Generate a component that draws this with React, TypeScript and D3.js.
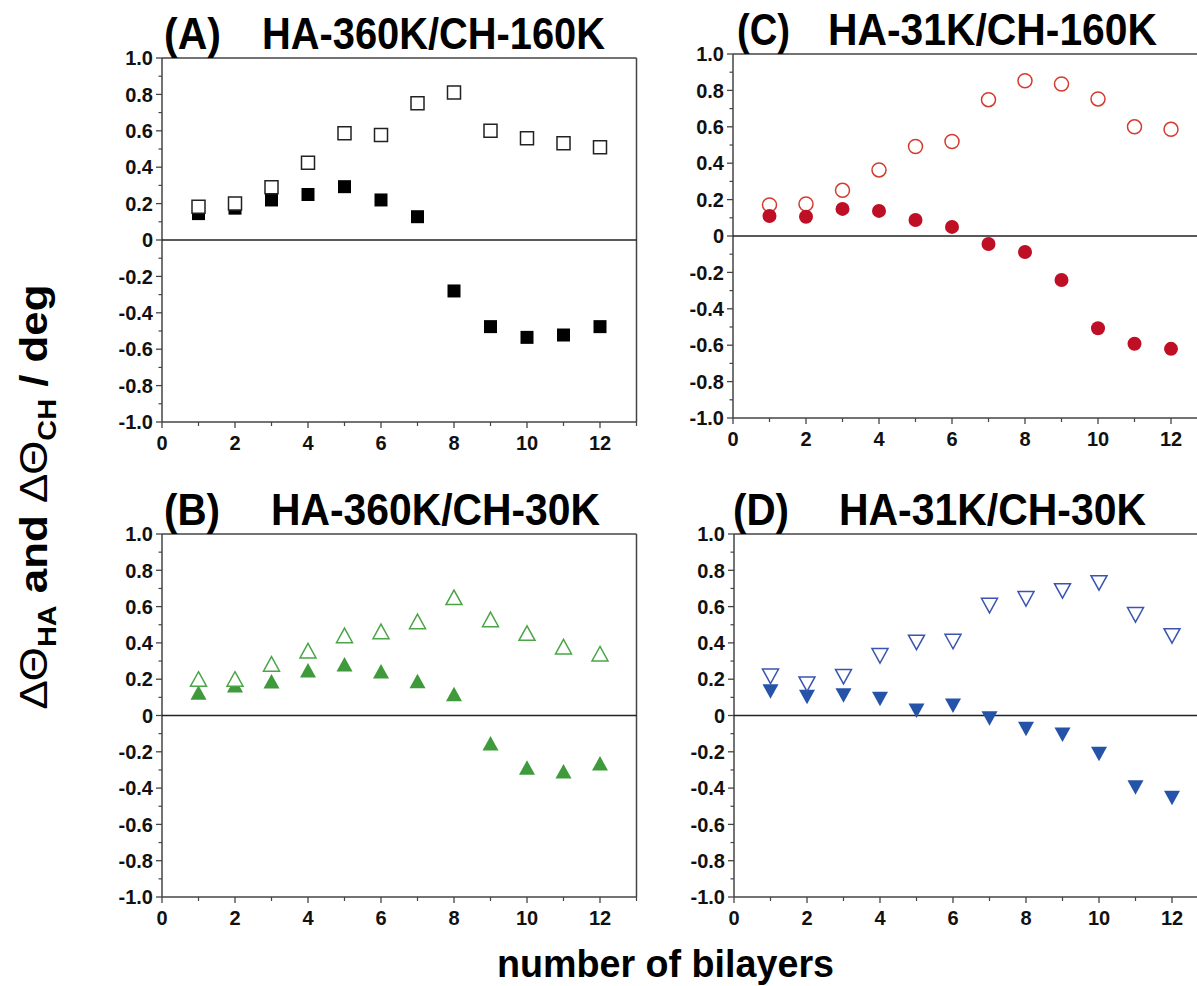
import React from "react";
import * as d3 from "d3";

// number of bilayers
const bilayers = [1, 2, 3, 4, 5, 6, 7, 8, 9, 10, 11, 12];

// (A) HA-360K/CH-160K
const openA = [0.183, 0.2, 0.29, 0.425, 0.586, 0.577, 0.751, 0.81, 0.6, 0.559, 0.531, 0.509];
const filledA = [0.145, 0.175, 0.22, 0.25, 0.293, 0.22, 0.128, -0.28, -0.476, -0.535, -0.522, -0.476];

// (B) HA-360K/CH-30K
const openB = [0.2, 0.2, 0.283, 0.356, 0.44, 0.462, 0.517, 0.65, 0.528, 0.453, 0.378, 0.339];
const filledB = [0.125, 0.165, 0.187, 0.248, 0.281, 0.242, 0.189, 0.117, -0.154, -0.288, -0.308, -0.265];

// (C) HA-31K/CH-160K
const openC = [0.171, 0.176, 0.251, 0.363, 0.492, 0.519, 0.749, 0.853, 0.835, 0.753, 0.6, 0.586];
const filledC = [0.11, 0.106, 0.149, 0.138, 0.088, 0.05, -0.044, -0.088, -0.242, -0.507, -0.592, -0.62];

// (D) HA-31K/CH-30K
const openD = [0.217, 0.174, 0.215, 0.33, 0.404, 0.409, 0.607, 0.644, 0.688, 0.732, 0.556, 0.44];
const filledD = [0.134, 0.103, 0.112, 0.092, 0.028, 0.055, -0.015, -0.073, -0.105, -0.211, -0.395, -0.453];

const xMajorTicks = [0, 2, 4, 6, 8, 10, 12];
const xMinorTicks = [1, 3, 5, 7, 9, 11, 13];
const yMajorTicks = [-1, -0.8, -0.6, -0.4, -0.2, 0, 0.2, 0.4, 0.6, 0.8, 1];
const yMinorTicks = [-0.9, -0.7, -0.5, -0.3, -0.1, 0.1, 0.3, 0.5, 0.7, 0.9];

const FONT = "'Liberation Sans', Arial, Helvetica, sans-serif";

type Shape = "square" | "circle" | "up" | "down";

function symbolPath(shape: Shape) {
  if (shape === "square") return "M-6.5,-6.5H6.5V6.5H-6.5Z";
  if (shape === "circle") return d3.symbol(d3.symbolCircle, Math.PI * 7 * 7)() as string;
  if (shape === "up") return "M0,-7.5L8,7L-8,7Z";
  return "M0,7.5L8,-7L-8,-7Z";
}

const panels = [
  {
    key: "A", label: "(A)", title: "HA-360K/CH-160K",
    left: 162, right: 636.5, top: 58, bottom: 422,
    labelX: 164, labelW: 57, titleX: 262, titleW: 343,
    open: openA, filled: filledA, shape: "square" as Shape,
    fill: "#000000", stroke: "#222222", openOnTop: true,
  },
  {
    key: "B", label: "(B)", title: "HA-360K/CH-30K",
    left: 162, right: 636.5, top: 534, bottom: 897,
    labelX: 164, labelW: 56, titleX: 271, titleW: 329,
    open: openB, filled: filledB, shape: "up" as Shape,
    fill: "#3e9a3a", stroke: "#4aa546", openOnTop: true,
  },
  {
    key: "C", label: "(C)", title: "HA-31K/CH-160K",
    left: 733, right: 1207.5, top: 54, bottom: 418,
    labelX: 737, labelW: 53, titleX: 828, titleW: 329,
    open: openC, filled: filledC, shape: "circle" as Shape,
    fill: "#be0f25", stroke: "#d43b2f", openOnTop: false,
  },
  {
    key: "D", label: "(D)", title: "HA-31K/CH-30K",
    left: 734, right: 1208.5, top: 534, bottom: 897,
    labelX: 733, labelW: 56, titleX: 839, titleW: 307,
    open: openD, filled: filledD, shape: "down" as Shape,
    fill: "#2453a8", stroke: "#3a55b0", openOnTop: true,
  },
];

type PanelProps = (typeof panels)[number];

function Panel(p: PanelProps) {
  const x = d3.scaleLinear().domain([0, 13]).range([p.left, p.right]);
  const y = d3.scaleLinear().domain([-1, 1]).range([p.bottom, p.top]);
  const path = symbolPath(p.shape);
  const axisColor = "#444";

  const filledMarks = bilayers.map((b, i) => (
    <path key={`f${i}`} d={path} transform={`translate(${x(b)},${y(p.filled[i])})`} fill={p.fill} />
  ));
  const openMarks = bilayers.map((b, i) => (
    <path
      key={`o${i}`}
      d={path}
      transform={`translate(${x(b)},${y(p.open[i])})`}
      fill="#fff"
      stroke={p.stroke}
      strokeWidth={1.5}
    />
  ));

  return (
    <g>
      {/* frame */}
      <line x1={p.left} x2={p.right} y1={p.top} y2={p.top} stroke={axisColor} strokeWidth={1.5} />
      <line x1={p.right} x2={p.right} y1={p.top} y2={p.bottom} stroke={axisColor} strokeWidth={1.5} />
      <line x1={p.left} x2={p.right} y1={p.bottom} y2={p.bottom} stroke={axisColor} strokeWidth={1.5} />
      <line x1={p.left} x2={p.left} y1={p.top} y2={p.bottom} stroke={axisColor} strokeWidth={1.5} />
      {/* zero line */}
      <line x1={p.left} x2={p.right} y1={y(0)} y2={y(0)} stroke="#222" strokeWidth={1.5} />

      {/* y ticks */}
      {yMajorTicks.map((t) => (
        <g key={`ym${t}`}>
          <line x1={p.left - 6} x2={p.left} y1={y(t)} y2={y(t)} stroke={axisColor} strokeWidth={1.3} />
          <text
            x={p.left - 9}
            y={y(t)}
            dy="0.36em"
            textAnchor="end"
            fontFamily={FONT}
            fontWeight="bold"
            fontSize={20}
            fill="#111"
          >
            {t === 0 ? "0" : t.toFixed(1)}
          </text>
        </g>
      ))}
      {yMinorTicks.map((t) => (
        <line key={`yn${t}`} x1={p.left - 3.5} x2={p.left} y1={y(t)} y2={y(t)} stroke={axisColor} strokeWidth={1.2} />
      ))}

      {/* x ticks */}
      {xMajorTicks.map((t) => (
        <g key={`xm${t}`}>
          <line x1={x(t)} x2={x(t)} y1={p.bottom} y2={p.bottom + 6} stroke={axisColor} strokeWidth={1.3} />
          <text
            x={x(t)}
            y={p.bottom + 28}
            textAnchor="middle"
            fontFamily={FONT}
            fontWeight="bold"
            fontSize={20}
            fill="#111"
          >
            {t}
          </text>
        </g>
      ))}
      {xMinorTicks.map((t) => (
        <line key={`xn${t}`} x1={x(t)} x2={x(t)} y1={p.bottom} y2={p.bottom + 4} stroke={axisColor} strokeWidth={1.2} />
      ))}

      {/* points */}
      {p.openOnTop ? filledMarks : openMarks}
      {p.openOnTop ? openMarks : filledMarks}

      {/* title */}
      <text
        x={p.labelX}
        y={p.top - 9}
        fontFamily={FONT}
        fontWeight="bold"
        fontSize={44}
        textLength={p.labelW}
        lengthAdjust="spacingAndGlyphs"
        fill="#000"
      >
        {p.label}
      </text>
      <text
        x={p.titleX}
        y={p.top - 9}
        fontFamily={FONT}
        fontWeight="bold"
        fontSize={44}
        textLength={p.titleW}
        lengthAdjust="spacingAndGlyphs"
        fill="#000"
      >
        {p.title}
      </text>
    </g>
  );
}

export default function App() {
  const width = 1197;
  const height = 986;
  return (
    <svg
      width={width}
      height={height}
      viewBox={`0 0 ${width} ${height}`}
      style={{ position: "absolute", left: 0, top: 0, background: "#fff" }}
    >
      <rect width={width} height={height} fill="#fff" />
      {panels.map((p) => (
        <Panel {...p} />
      ))}

      {/* y axis title */}
      <text
        transform="translate(47,497) rotate(-90)"
        textAnchor="middle"
        fontFamily={FONT}
        fontWeight="bold"
        fontSize={38}
        textLength={425}
        lengthAdjust="spacingAndGlyphs"
        fill="#000"
      >
        <tspan fontWeight="normal">ΔΘ</tspan>
        <tspan fontSize={25} dy={9}>HA</tspan>
        <tspan dy={-9}> and </tspan>
        <tspan fontWeight="normal">ΔΘ</tspan>
        <tspan fontSize={25} dy={9}>CH</tspan>
        <tspan dy={-9}> / deg</tspan>
      </text>

      {/* x axis title */}
      <text
        x={497}
        y={977}
        fontFamily={FONT}
        fontWeight="bold"
        fontSize={38}
        textLength={337}
        lengthAdjust="spacingAndGlyphs"
        fill="#000"
      >
        number of bilayers
      </text>
    </svg>
  );
}
